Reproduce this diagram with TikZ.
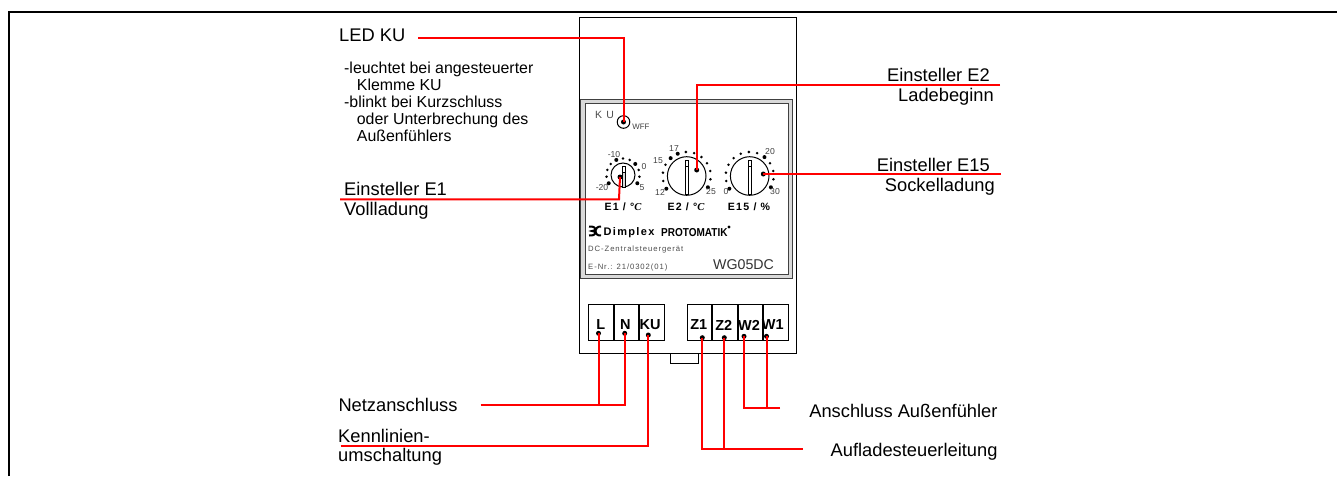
\documentclass[tikz,border=0pt]{standalone}
\usepackage{fontspec}
\setmainfont{Liberation Sans}
\newfontfamily\spacedfont[LetterSpace=12]{Liberation Sans}
\newfontfamily\serifitfont{Liberation Serif}
\usetikzlibrary{calc, positioning}
\tikzset{
    wire/.style={draw=red, line width=2pt},
    label big/.style={inner sep=0pt, font=\fontsize{18.3}{20}\selectfont},
    label small/.style={inner sep=0pt, font=\fontsize{15.9}{17}\selectfont, anchor=base west},
    scale num/.style={inner sep=0pt, text=black!75, font=\fontsize{8.6}{9}\selectfont},
    knob name/.style={inner sep=0pt, font=\fontsize{10.6}{11}\spacedfont\bfseries},
    panel text/.style={inner sep=0pt, text=black!70, anchor=base west, font=\fontsize{7.7}{9}\spacedfont},
    klemme/.style={draw, line width=0.9pt, minimum width=24.6pt, minimum height=36.3pt, inner sep=0pt},
    klemme text/.style={inner sep=0pt, font=\fontsize{14.5}{15}\selectfont\bfseries},
    dotmark/.style={circle, fill=black, inner sep=0pt, minimum size=5pt},
    knob/.style={circle, draw, line width=1pt, fill=white, inner sep=0pt},
}
\begin{document}
\begin{tikzpicture}[x=1pt,y=-1pt]
    \useasboundingbox (0,0) rectangle (1337,476);
    % rahmen
    \draw[line width=2.2pt] (9,476)-- (9,12)-- (1337,12);
    % gehaeuse
    \draw[line width=1pt] (579,18) rectangle (796,353);
    \draw[line width=1pt] (670,353) rectangle (698,363);
    \draw[line width=0.7pt, draw=black!75, fill=black!15] (580,99) rectangle (792.5,278);
    \draw[line width=0.7pt, draw=black!75, fill=white] (585,103) rectangle (788,274);
    % LED
    \node[panel text, font=\fontsize{10.5}{11}\spacedfont] (kutext) at (595,118.5) {K U};
    \node[circle, draw, line width=1pt, minimum size=12.6pt, inner sep=0pt] (ledring) at (623.5,122) {};
    \node[dotmark] (ledku) at (623.5,122) {};
    \node[scale num, font=\fontsize{7.9}{9}\selectfont] (wff) at (641,127) {WFF};
    % einsteller
    \node[knob, minimum size=24pt] (knobA) at (623,175) {};
    \node[knob, minimum size=38.6pt] (knobB) at (686.7,176) {};
    \node[knob, minimum size=38.6pt] (knobC) at (749.7,176) {};
    \draw[line width=0.8pt, fill=black!15] (622.3,166) rectangle (625.7,187);
    \draw[line width=0.8pt, fill=white] (622.3,166) rectangle (625.7,172);
    \draw[line width=0.8pt] (684.9,160.5) rectangle (688.5,194.5);
    \draw[line width=0.8pt] (684.9,160.5) rectangle (688.5,166.5);
    \draw[line width=0.8pt] (747.9,160.5) rectangle (751.5,194.5);
    \draw[line width=0.8pt] (747.9,160.5) rectangle (751.5,166.5);
    % skalen
    \foreach \a in {-30,-6,...,210}
        \fill ($(knobA)+(\a:16.5 and -16.5)$) circle (1.4);
    \foreach \a in {-28,-8,...,212}{
        \fill ($(knobB)+(\a:24 and -24)$) circle (1.4);
        \fill ($(knobC)+(\a:24 and -24)$) circle (1.4);
    }
    \foreach \a in {-30,42,114,210}
        \fill ($(knobA)+(\a:16.5 and -16.5)$) circle (2);
    \foreach \a in {-28,112,132,212}
        \fill ($(knobB)+(\a:24 and -24)$) circle (2);
    \foreach \a in {-28,52,212}
        \fill ($(knobC)+(\a:24 and -24)$) circle (2);
    % zahlen
    \node[scale num] (numA) at (614,155) {-10};
    \node[scale num] (numB) at (644,167) {0};
    \node[scale num] (numC) at (602,188) {-20};
    \node[scale num] (numD) at (642,188) {5};
    \node[scale num] (numE) at (674,149) {17};
    \node[scale num] (numF) at (658,161) {15};
    \node[scale num] (numG) at (660,192) {12};
    \node[scale num] (numH) at (711,192) {25};
    \node[scale num] (numI) at (770,152) {20};
    \node[scale num] (numJ) at (726,192) {0};
    \node[scale num] (numK) at (775,192) {30};
    \node[knob name] (nameA) at (623,207) {E1 / °{\serifitfont\itshape C}};
    \node[knob name] (nameB) at (686,207) {E2 / °{\serifitfont\itshape C}};
    \node[knob name] (nameC) at (749,207) {E15 / \%};
    % logo
    \draw[line width=2pt] (589,226.5) .. controls (597,226) and (597,231) .. (592,231) .. controls (597,231) and (597,236) .. (589,235.5);
    \draw[line width=2pt] (601,226.5) .. controls (594,226) and (593,236) .. (601,235.5);
    \node[panel text, text=black, font=\fontsize{11}{12}\spacedfont\bfseries] (dimplex) at (603.5,235) {Dimplex};
    \node[inner sep=0pt, anchor=base west, xscale=0.87, font=\fontsize{11.5}{12}\selectfont\bfseries] (proto) at (661,236) {PROTOMATIK};
    \fill (729,227) circle (1.6);
    \node[panel text] (dctext) at (588,251) {DC-Zentralsteuergerät};
    \node[panel text] (enr) at (588,269) {E-Nr.: 21/0302(01)};
    \node[inner sep=0pt, anchor=base west, text=black!80, font=\fontsize{14.2}{15}\selectfont] (wgtext) at (713,269) {WG05DC};
    % klemmen
    \node[klemme, anchor=north west] (kL) at (588.3,304) {};
    \node[klemme, right=0pt of kL] (kN) {};
    \node[klemme, right=0pt of kN] (kKU) {};
    \node[klemme, anchor=north west] (kZa) at (686.7,304) {};
    \node[klemme, right=0pt of kZa] (kZb) {};
    \node[klemme, right=0pt of kZb] (kWb) {};
    \node[klemme, right=0pt of kWb] (kWa) {};
    \node[klemme text] (tL) at (600.7,325) {L};
    \node[klemme text] (tN) at (625.3,325) {N};
    \node[klemme text] (tKU) at (650,325) {KU};
    \node[klemme text] (tZa) at (698.7,325) {Z1};
    \node[klemme text] (tZb) at (723.7,325) {Z2};
    \node[klemme text] (tWb) at (749,325) {W2};
    \node[klemme text] (tWa) at (772.7,325) {W1};
    \node[dotmark] (dotL) at (598.5,333.3) {};
    \node[dotmark] (dotN) at (624.7,333.3) {};
    \node[dotmark] (dotKU) at (648.3,335) {};
    \node[dotmark] (dotZa) at (702.3,337.7) {};
    \node[dotmark] (dotZb) at (724.3,337.7) {};
    \node[dotmark] (dotWb) at (744,336.3) {};
    \node[dotmark] (dotWa) at (766.5,336.3) {};
    \node[dotmark] (dotEa) at (620,177) {};
    \node[dotmark] (dotEb) at (696.7,170) {};
    \node[dotmark] (dotEc) at (763.3,174) {};
    % label
    \node[label big, anchor=base west] (lLED) at (339,42) {LED KU};
    \node[label small] (sa) at (344,73.3) {-leuchtet bei angesteuerter};
    \node[label small] (sb) at (356.7,90.3) {Klemme KU};
    \node[label small] (sc) at (344,107.3) {-blinkt bei Kurzschluss};
    \node[label small] (sd) at (356.7,124.3) {oder Unterbrechung des};
    \node[label small] (se) at (356.7,141.3) {Außenfühlers};
    \node[label big, anchor=base west] (lEa) at (344,195) {Einsteller E1};
    \node[label big, anchor=base west] (lEaa) at (344,215.7) {Vollladung};
    \node[label big, anchor=base east] (lEb) at (990,82) {Einsteller E2};
    \node[label big, anchor=base east] (lEbb) at (994,101.7) {Ladebeginn};
    \node[label big, anchor=base east] (lEc) at (990,171) {Einsteller E15};
    \node[label big, anchor=base east] (lEcc) at (995,191) {Sockelladung};
    \node[label big, anchor=base west] (lNetz) at (338.3,411) {Netzanschluss};
    \node[label big, anchor=base west] (lKa) at (338,442.7) {Kennlinien-};
    \node[label big, anchor=base west] (lKb) at (338,461.7) {umschaltung};
    \node[label big, anchor=base east] (lAus) at (997.7,417.3) {Anschluss Außenfühler};
    \node[label big, anchor=base east] (lAuf) at (997.7,456.7) {Aufladesteuerleitung};
    % leitungen
    \coordinate (endLED) at (418,38);
    \coordinate (endEa) at (340,199.3);
    \coordinate (endEb) at (1000,85);
    \coordinate (endEc) at (1000.7,174);
    \coordinate (endNetz) at (480.7,405);
    \coordinate (endK) at (340.7,446);
    \coordinate (endAus) at (780,407.7);
    \coordinate (endAuf) at (802.7,448.7);
    \draw[wire] (endLED) -| (ledku.center);
    \draw[wire] (endEa) -- ($(endEa-|dotEa)+(-1,0)$) -- (dotEa.center);
    \draw[wire] (endEb) -| (dotEb.center);
    \draw[wire] (endEc) -- (dotEc.center);
    \draw[wire] (endNetz) -| (dotN.center);
    \draw[wire] (endNetz-|dotL) -- (dotL.center);
    \draw[wire] (endK) -| (dotKU.center);
    \draw[wire] (endAus) -| (dotWb.center);
    \draw[wire] (endAus-|dotWa) -- (dotWa.center);
    \draw[wire] (endAuf) -| (dotZa.center);
    \draw[wire] (endAuf-|dotZb) -- (dotZb.center);
\end{tikzpicture}
\end{document}
